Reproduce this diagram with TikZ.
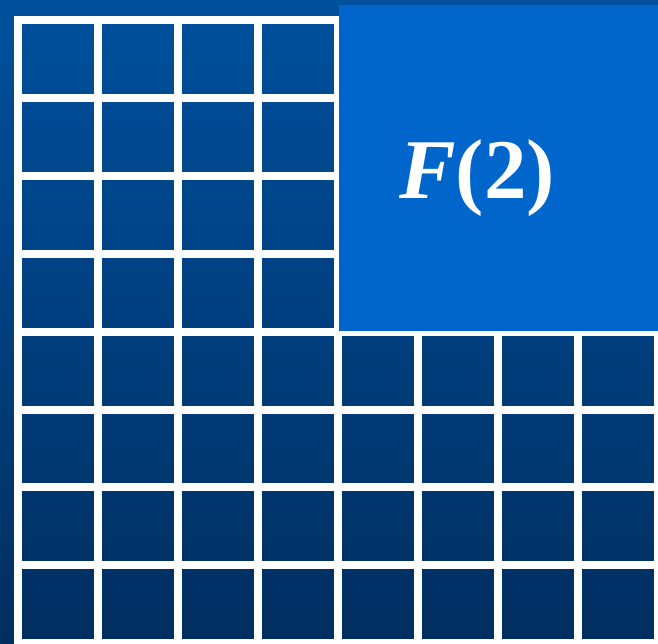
\documentclass[tikz,border=0pt]{standalone}
\usepackage{fontspec}
\setmainfont{Liberation Serif}
\definecolor{bgtop}{RGB}{0,80,158}
\definecolor{bgbottom}{RGB}{0,46,96}
\definecolor{blockblue}{RGB}{0,102,204}

\begin{document}
\begin{tikzpicture}[
      x=1pt, y=-1pt,
      gridline/.style={white, line width=8pt},
      blocklabel/.style={text=white, inner sep=0pt,
                         font=\fontsize{85}{90}\selectfont\bfseries}
    ]
    \fill[top color=bgtop, bottom color=bgbottom] (0,0) rectangle (658,643);
    \useasboundingbox (0,0) rectangle (658,643);
    % grid
    \foreach \i in {0,...,8}
      \draw[gridline] (18+80*\i,16) -- (18+80*\i,643);
    \foreach \j in {0,...,8}
      \draw[gridline] (14,20+77.9*\j) -- (662,20+77.9*\j);
    % top-right block
    \fill[blockblue] (339,5) rectangle (660,331);
    \node[blocklabel] (ftwo) at (477,178) {\textit{F}(2)};
  \end{tikzpicture}
\end{document}
